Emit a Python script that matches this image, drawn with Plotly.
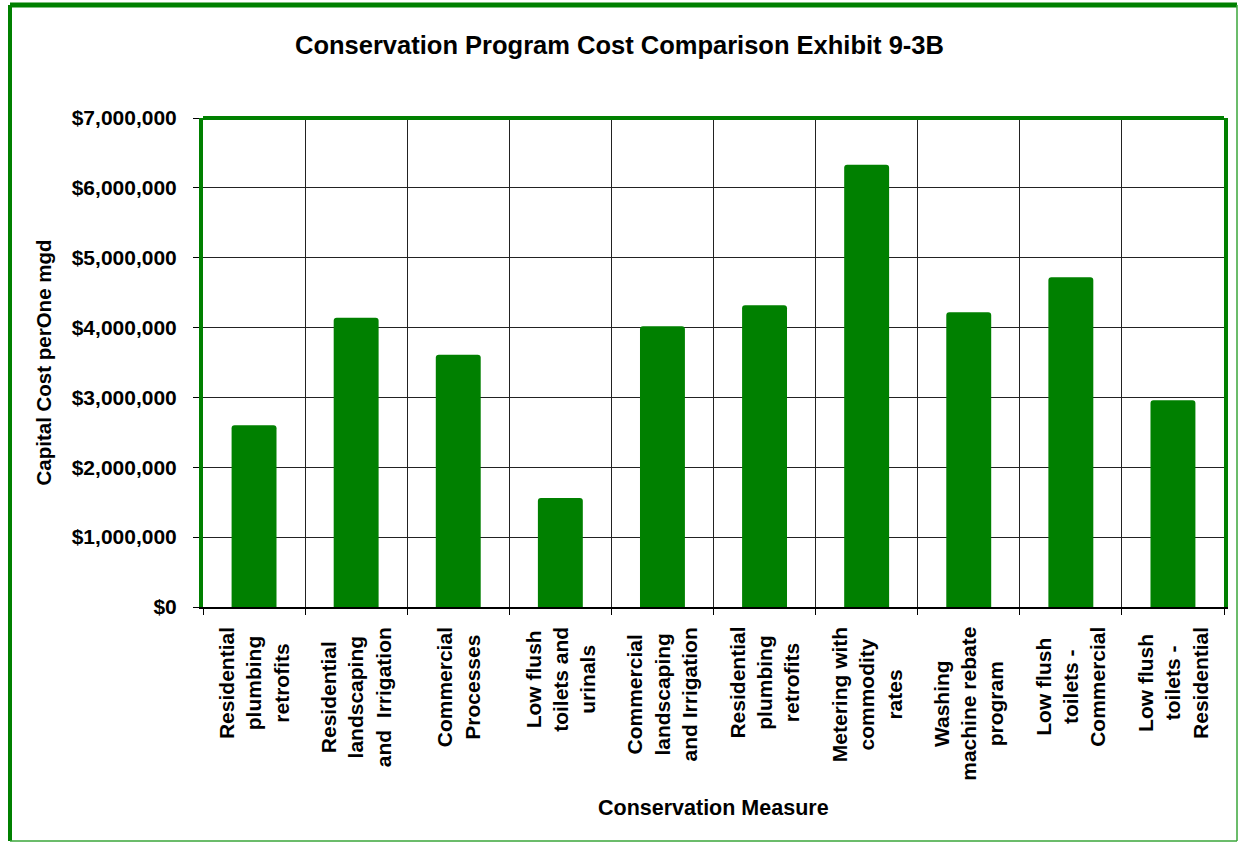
"""
Conservation program cost comparison - capital cost per one mgd by measure
"""

import plotly.graph_objects as go

measures = [
    'Residential<br>plumbing<br>retrofits',
    'Residential<br>landscaping<br>and  Irrigation',
    'Commercial<br>Processes',
    'Low flush<br>toilets and<br>urinals',
    'Commercial<br>landscaping<br>and Irrigation',
    'Residential<br>plumbing<br>retrofits',
    'Metering with<br>commodity<br>rates',
    'Washing<br>machine rebate<br>program',
    'Low flush<br>toilets -<br>Commercial',
    'Low flush<br>toilets -<br>Residential',
]
capital_cost = [2600000, 4140000, 3610000, 1560000, 4020000,
                4320000, 6330000, 4220000, 4720000, 2960000]
y_ticks = [0, 1000000, 2000000, 3000000, 4000000, 5000000, 6000000, 7000000]
y_labels = ['$0', '$1,000,000', '$2,000,000', '$3,000,000', '$4,000,000',
            '$5,000,000', '$6,000,000', '$7,000,000']

GREEN = '#008000'
FONT = 'Liberation Sans, Arial, sans-serif'

positions = list(range(len(measures)))
boundaries = [p - 0.5 for p in positions] + [positions[-1] + 0.5]

fig = go.Figure(go.Bar(
    x=positions,
    y=capital_cost,
    width=0.44,
    marker=dict(color=GREEN, line=dict(width=0), cornerradius=3),
))

fig.update_layout(
    width=1239,
    height=843,
    margin=dict(l=203, r=15, t=118, b=236),
    paper_bgcolor='white',
    plot_bgcolor='white',
    font=dict(family=FONT, color='black'),
    showlegend=False,
    title=dict(
        text='<b>Conservation Program Cost Comparison Exhibit 9-3B</b>',
        x=0.5, xref='container', xanchor='center',
        y=1 - 45 / 843, yref='container', yanchor='middle',
        font=dict(size=25.5, family=FONT),
    ),
)

# category labels: rotated, lines centred on each other (as in the exhibit)
pw, ph = 1021.0, 489.0
for pos, label in zip(positions, measures):
    fig.add_annotation(
        x=pos, xref='x', y=-18 / ph, yref='paper',
        text='<b>%s</b>' % label, textangle=-90, align='center',
        xanchor='center', yanchor='top', showarrow=False,
        font=dict(size=21, family=FONT, color='black'),
    )

fig.add_annotation(
    x=0.5, xref='paper', y=(607 - 808) / ph, yref='paper',
    text='<b>Conservation Measure</b>', showarrow=False,
    xanchor='center', yanchor='middle',
    font=dict(size=21.5, family=FONT, color='black'),
)

fig.update_xaxes(
    range=[-0.5, len(measures) - 0.5],
    tickvals=positions,
    showticklabels=False,
    ticks='',
    showgrid=False,
    showline=True, linecolor='black', linewidth=2,
    minor=dict(tickvals=boundaries, ticks='outside', ticklen=6,
               tickcolor='black', showgrid=True, gridcolor='#222222', gridwidth=1),
    zeroline=False,
)

fig.update_yaxes(
    range=[0, 7000000],
    tickvals=y_ticks,
    ticktext=['<b>%s</b>' % t for t in y_labels],
    tickfont=dict(size=21, family=FONT),
    ticklabelstandoff=12,
    ticks='outside', ticklen=6, tickcolor='black',
    showgrid=True, gridcolor='#222222', gridwidth=1,
    showline=True, linecolor=GREEN, linewidth=4, mirror=True,
    zeroline=False,
    title=dict(text='<b>Capital Cost perOne mgd</b>', font=dict(size=20.5, family=FONT),
               standoff=16),
)

# top edge of the plot frame
fig.add_shape(type='line', xref='paper', yref='paper', x0=0, x1=1, y0=1, y1=1,
              line=dict(color=GREEN, width=4))

# outer chart frame
left, right = (10 - 203) / pw, (1237 - 203) / pw
top, bottom = (607 - 5) / ph, (607 - 841) / ph
fig.add_shape(type='line', xref='paper', yref='paper', x0=left, x1=right, y0=top, y1=top,
              line=dict(color=GREEN, width=5))
fig.add_shape(type='line', xref='paper', yref='paper', x0=left, x1=left, y0=bottom, y1=top,
              line=dict(color=GREEN, width=4))
fig.add_shape(type='line', xref='paper', yref='paper', x0=right, x1=right, y0=bottom, y1=top,
              line=dict(color='#3aa63a', width=1.5))
fig.add_shape(type='line', xref='paper', yref='paper', x0=left, x1=right, y0=bottom, y1=bottom,
              line=dict(color='#3aa63a', width=1.5))

fig.write_html("out.html", config={'displayModeBar': False},
               post_script="document.body.style.margin='0';")
